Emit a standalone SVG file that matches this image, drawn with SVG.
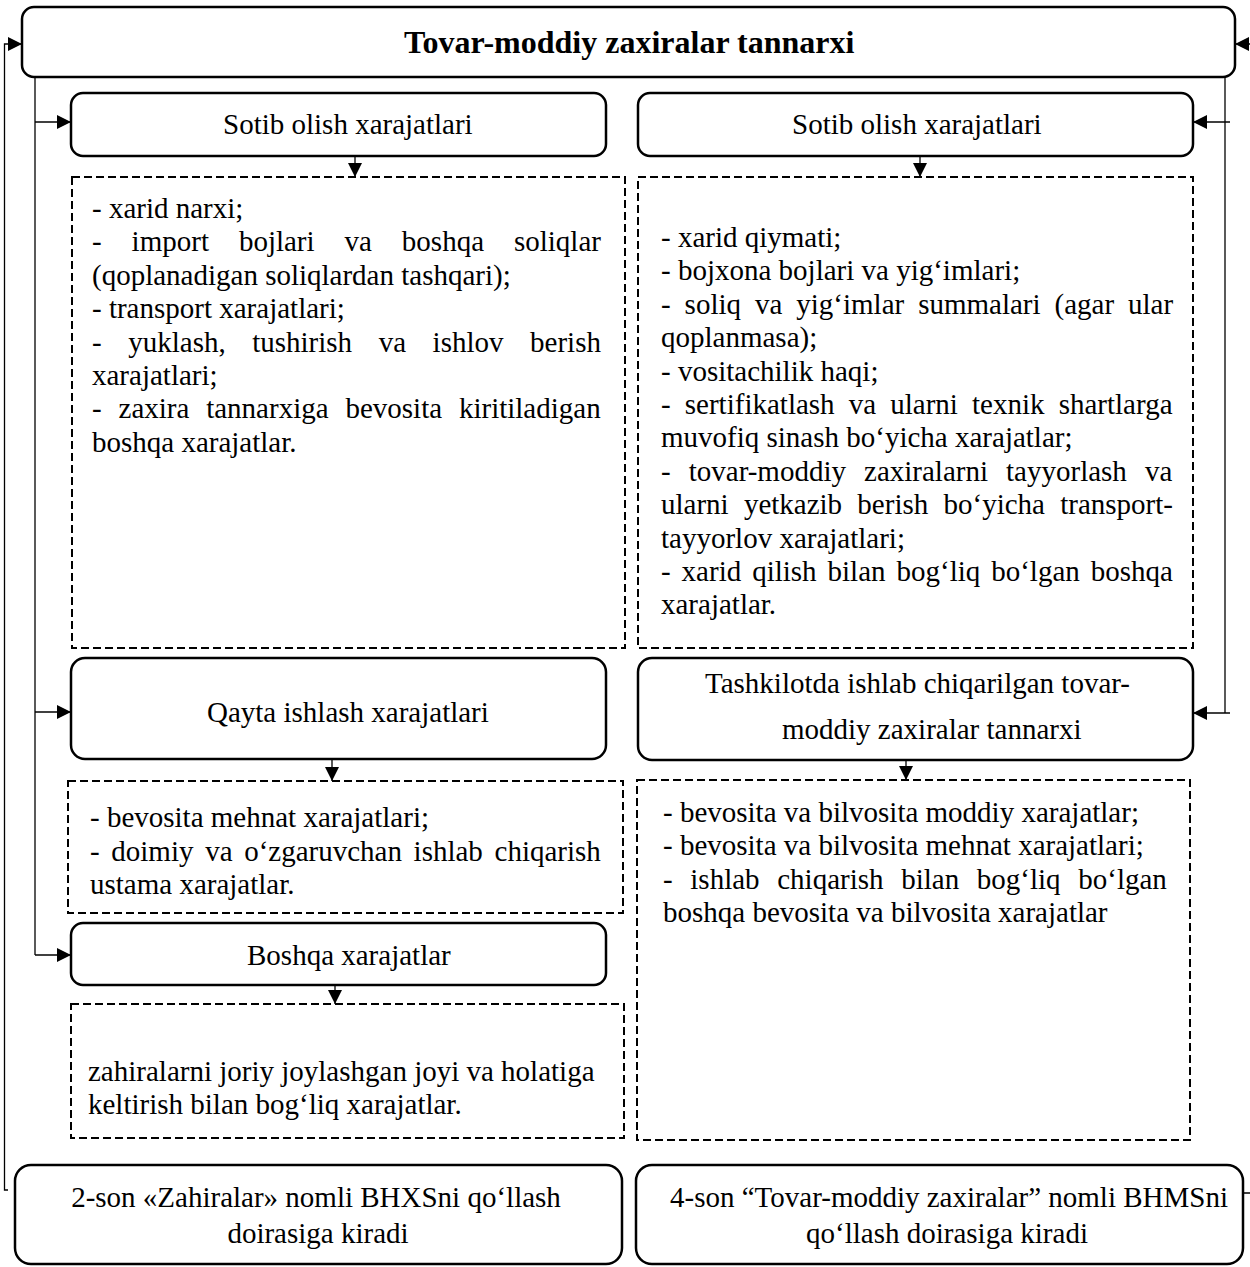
<svg xmlns="http://www.w3.org/2000/svg" width="1250" height="1267" viewBox="0 0 1250 1267">
<style>
.box{fill:#fff;stroke:#000;stroke-width:2.5}
.dash{fill:#fff;stroke:#000;stroke-width:2;stroke-dasharray:8 4}
.conn{fill:none;stroke:#000;stroke-width:1.3}
text{font-family:"Liberation Serif","Times New Roman",serif;font-size:29px;fill:#000}
.title{font-size:32px;font-weight:bold}
.mid{text-anchor:middle}
</style>
<defs>
<marker id="ah" markerUnits="userSpaceOnUse" markerWidth="14" markerHeight="14" refX="14" refY="7" orient="auto">
<path d="M0,0 L14,7 L0,14 z" fill="#000"/>
</marker>
</defs>
<rect width="1250" height="1267" fill="#fff"/>

<g id="connectors">
<path class="conn" d="M8,1190 H4.5 V44 H22" marker-end="url(#ah)"/>
<path class="conn" d="M1243,1193 H1251 V44 H1235" marker-end="url(#ah)"/>
<path class="conn" d="M35,77 V955"/>
<path class="conn" d="M35,122 H71" marker-end="url(#ah)"/>
<path class="conn" d="M35,712 H71" marker-end="url(#ah)"/>
<path class="conn" d="M35,955 H71" marker-end="url(#ah)"/>
<path class="conn" d="M1225,77 V713"/>
<path class="conn" d="M1230,122 H1193" marker-end="url(#ah)"/>
<path class="conn" d="M1230,713 H1193" marker-end="url(#ah)"/>
<path class="conn" d="M355,156 V177" marker-end="url(#ah)"/>
<path class="conn" d="M920,156 V177" marker-end="url(#ah)"/>
<path class="conn" d="M332,759 V781" marker-end="url(#ah)"/>
<path class="conn" d="M906,760 V780" marker-end="url(#ah)"/>
<path class="conn" d="M335,985 V1004" marker-end="url(#ah)"/>
</g>

<g id="n-title">
<rect class="box" x="22" y="7" width="1213" height="70" rx="12"/>
<text class="title" x="404" y="53">Tovar-moddiy zaxiralar tannarxi</text>
</g>

<g id="n-sotib-left">
<rect class="box" x="71" y="93" width="535" height="63" rx="12"/>
<text x="223" y="134">Sotib olish xarajatlari</text>
</g>

<g id="n-sotib-right">
<rect class="box" x="638" y="93" width="555" height="63" rx="12"/>
<text x="792" y="134">Sotib olish xarajatlari</text>
</g>

<g id="n-list-left">
<rect class="dash" x="72" y="177" width="553" height="471"/>
<text x="92" y="218">- xarid narxi;</text>
<text x="92" y="251.4" word-spacing="22.7">- import bojlari va boshqa soliqlar</text>
<text x="92" y="284.8">(qoplanadigan soliqlardan tashqari);</text>
<text x="92" y="318.2">- transport xarajatlari;</text>
<text x="92" y="351.6" word-spacing="19.3">- yuklash, tushirish va ishlov berish</text>
<text x="92" y="385">xarajatlari;</text>
<text x="92" y="418.4" word-spacing="9.6">- zaxira tannarxiga bevosita kiritiladigan</text>
<text x="92" y="451.8">boshqa xarajatlar.</text>
</g>

<g id="n-list-right">
<rect class="dash" x="638" y="177" width="555" height="471"/>
<text x="661" y="247">- xarid qiymati;</text>
<text x="661" y="280.4">- bojxona bojlari va yig‘imlari;</text>
<text x="661" y="313.8" word-spacing="6.7">- soliq va yig‘imlar summalari (agar ular</text>
<text x="661" y="347.2">qoplanmasa);</text>
<text x="661" y="380.6">- vositachilik haqi;</text>
<text x="661" y="414" word-spacing="6.9">- sertifikatlash va ularni texnik shartlarga</text>
<text x="661" y="447.4">muvofiq sinash bo‘yicha xarajatlar;</text>
<text x="661" y="480.8" word-spacing="10.8">- tovar-moddiy zaxiralarni tayyorlash va</text>
<text x="661" y="514.2" word-spacing="8">ularni yetkazib berish bo‘yicha transport-</text>
<text x="661" y="547.6">tayyorlov xarajatlari;</text>
<text x="661" y="581" word-spacing="3.7">- xarid qilish bilan bog‘liq bo‘lgan boshqa</text>
<text x="661" y="614.4">xarajatlar.</text>
</g>

<g id="n-qayta">
<rect class="box" x="71" y="658" width="535" height="101" rx="14"/>
<text x="207" y="722">Qayta ishlash xarajatlari</text>
</g>

<g id="n-tashkilot">
<rect class="box" x="638" y="658" width="555" height="102" rx="14"/>
<text x="705" y="693">Tashkilotda ishlab chiqarilgan tovar-</text>
<text x="782" y="739">moddiy zaxiralar tannarxi</text>
</g>

<g id="n-list-qayta">
<rect class="dash" x="68" y="781" width="555" height="132"/>
<text x="90" y="827">- bevosita mehnat xarajatlari;</text>
<text x="90" y="860.5" word-spacing="4.4">- doimiy va o‘zgaruvchan ishlab chiqarish</text>
<text x="90" y="894">ustama xarajatlar.</text>
</g>

<g id="n-list-tashkilot">
<rect class="dash" x="637" y="780" width="553" height="360"/>
<text x="663" y="822">- bevosita va bilvosita moddiy xarajatlar;</text>
<text x="663" y="855.4">- bevosita va bilvosita mehnat xarajatlari;</text>
<text x="663" y="888.8" word-spacing="10.4">- ishlab chiqarish bilan bog‘liq bo‘lgan</text>
<text x="663" y="922.2">boshqa bevosita va bilvosita xarajatlar</text>
</g>

<g id="n-boshqa">
<rect class="box" x="71" y="923" width="535" height="62" rx="12"/>
<text x="247" y="965">Boshqa xarajatlar</text>
</g>

<g id="n-list-boshqa">
<rect class="dash" x="71" y="1004" width="553" height="134"/>
<text x="88" y="1081">zahiralarni joriy joylashgan joyi va holatiga</text>
<text x="88" y="1114.4">keltirish bilan bog‘liq xarajatlar.</text>
</g>

<g id="n-bhxs">
<rect class="box" x="15" y="1165" width="607" height="99" rx="16"/>
<text class="mid" x="316" y="1207">2-son «Zahiralar» nomli BHXSni qo‘llash</text>
<text class="mid" x="318" y="1243">doirasiga kiradi</text>
</g>

<g id="n-bhms">
<rect class="box" x="636" y="1165" width="607" height="99" rx="16"/>
<text class="mid" x="949" y="1207">4-son “Tovar-moddiy zaxiralar” nomli BHMSni</text>
<text class="mid" x="947" y="1243">qo‘llash doirasiga kiradi</text>
</g>
</svg>
